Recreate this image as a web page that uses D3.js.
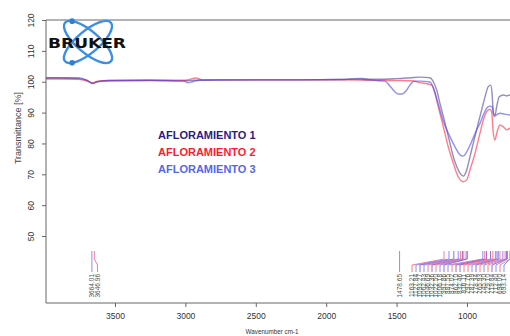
<!DOCTYPE html>
<html>
<head>
<meta charset="utf-8">
<script src="https://cdn.jsdelivr.net/npm/d3@7/dist/d3.min.js"></script>
<style>
  body { margin: 0; background: #fff; }
  svg { display: block; font-family: 'Liberation Sans', Arial, sans-serif; }
</style>
</head>
<body>
<div id="chart"></div>
<script>
// --- data: [wavenumber cm-1, transmittance %]
const seriesNames = ['AFLORAMIENTO 1', 'AFLORAMIENTO 2', 'AFLORAMIENTO 3'];

const afloramiento1 = [
  [3990,101.2],[3900,101.2],[3760,101.0],[3700,100.4],[3660,99.5],[3620,100.1],[3540,100.4],
  [3250,100.5],[3000,100.3],[2930,100.5],[2800,100.6],[2500,100.6],[2200,100.6],[1900,100.7],
  [1760,101.1],[1700,100.8],[1600,100.8],[1500,101.0],[1400,101.3],[1334,101.5],[1263,101.3],
  [1239,100.0],[1215,97.3],[1192,93.0],[1156,86.6],[1121,80.1],[1097,75.7],[1073,72.5],
  [1050,70.4],[1026,69.4],[1002,71.4],[979,75.7],[955,80.1],[920,86.6],[896,90.8],[872,95.1],
  [849,98.4],[832,98.9],[822,96.3],[813,89.9],[801,89.2],[789,91.9],[771,95.1],[742,95.7],
  [718,95.4],[695,95.7],[660,95.5]
];
const afloramiento2 = [
  [3990,100.9],[3900,100.9],[3760,100.8],[3700,100.3],[3660,99.7],[3620,100.2],[3540,100.4],
  [3250,100.5],[3000,100.5],[2925,101.2],[2880,100.6],[2500,100.6],[2200,100.6],[1900,100.6],
  [1700,100.5],[1500,100.4],[1400,100.3],[1334,99.7],[1251,98.9],[1227,96.2],[1204,91.9],
  [1168,85.4],[1133,78.9],[1097,73.6],[1062,69.2],[1026,67.6],[1002,68.2],[979,71.4],
  [943,76.8],[908,83.3],[884,87.6],[860,90.3],[837,91.1],[825,90.3],[813,83.3],[801,81.1],
  [789,83.3],[766,86.0],[742,85.4],[718,84.4],[695,84.9],[660,84.6]
];
const afloramiento3 = [
  [3990,101.3],[3760,101.3],[3700,100.5],[3660,99.4],[3620,100.0],[3540,100.3],[3250,100.4],
  [3010,100.2],[2982,99.7],[2950,100.0],[2900,100.5],[2500,100.6],[2200,100.6],[1900,100.7],
  [1760,100.8],[1620,100.3],[1582,100.2],[1547,98.6],[1511,96.7],[1490,96.0],[1462,96.0],
  [1433,97.0],[1405,98.9],[1376,100.2],[1334,100.2],[1263,99.9],[1242,98.4],[1206,93.1],
  [1171,87.6],[1121,82.2],[1073,77.9],[1050,76.3],[1026,75.9],[1002,77.3],[967,80.6],
  [931,84.4],[908,86.5],[884,89.2],[860,91.4],[837,92.1],[818,91.7],[808,88.7],[794,89.2],
  [766,89.8],[731,89.5],[695,89.2],[660,89.0]
];

// peak picks: wavenumber and series index (0,1,2)
const peakWavenumbers = [3664.01, 3646.96, 1478.65,
  1163.21, 1127.84, 1093.27, 1062.43, 1046.69, 1032.36, 1022.50, 1006.18, 997.86,
  887.55, 874.02, 862.10, 832.46, 816.11, 797.76, 787.39, 778.34, 765.93, 745.30,
  729.10, 719.84, 712.40, 694.00, 693.14];
const peakSeries = [2, 1, 2,
  1, 2, 0, 2, 1, 0, 1, 2, 0,
  2, 1, 0, 0, 1, 1, 2, 0, 1, 2,
  1, 0, 2, 1, 2];

const xTicks = [3500, 3000, 2500, 2000, 1500, 1000];
const yTicks = [50, 60, 70, 80, 90, 100, 110, 120];

const lineColors = ['rgba(60,45,140,0.55)', 'rgba(255,40,60,0.6)', 'rgba(70,70,240,0.6)'];
const pickColors = ['#9a6ad0', '#ff7c88', '#8c8cff'];
const legendColors = ['#2b1c86', '#ff1b2d', '#5466ee'];

const Width = 510, Height = 336;
const Margin = { t: 20, r: 0, b: 33, l: 46 };

const svg = d3.select('#chart').append('svg')
  .attr('width', Width)
  .attr('height', Height);

const x = d3.scaleLinear().domain([3990, 600]).range([Margin.l, 523.3]);
const y = d3.scaleLinear().domain([28.3, 120]).range([Height - Margin.b, Margin.t]);

svg.append('clipPath').attr('id', 'plotClip')
  .append('rect')
  .attr('x', Margin.l).attr('y', Margin.t)
  .attr('width', Width - Margin.l).attr('height', Height - Margin.b - Margin.t);

// axes
const xAxis = svg.append('g')
  .attr('class', 'xAxis')
  .attr('transform', `translate(0, ${Height - Margin.b})`)
  .call(d3.axisBottom(x).tickValues(xTicks).tickFormat(d3.format('d'))
    .tickSize(4).tickSizeOuter(0).tickPadding(6));
xAxis.select('.domain').attr('stroke', '#666').attr('d', `M${Margin.l},0H${Width}`);
xAxis.selectAll('.tick line').attr('stroke', '#666');
xAxis.selectAll('.tick text').attr('fill', '#333').style('font-size', '8.5px');

const yAxis = svg.append('g')
  .attr('class', 'yAxis')
  .attr('transform', `translate(${Margin.l}, 0)`)
  .call(d3.axisLeft(y).tickValues(yTicks).tickFormat(d3.format('d')).tickSize(4).tickSizeOuter(0));
yAxis.select('.domain').attr('stroke', '#666')
  .attr('d', `M0,${Margin.t}V${Height - Margin.b}`);
yAxis.selectAll('.tick line').attr('stroke', '#666');
yAxis.selectAll('.tick text')
  .attr('fill', '#333')
  .style('font-size', '8.5px')
  .attr('transform', 'rotate(-90)')
  .attr('x', 0)
  .attr('y', -12)
  .attr('dy', 0)
  .style('text-anchor', 'middle');

// top frame line
svg.append('line')
  .attr('x1', Margin.l).attr('x2', Width)
  .attr('y1', y(120)).attr('y2', y(120))
  .attr('stroke', '#666');

svg.append('text')
  .attr('x', 272).attr('y', 334)
  .attr('text-anchor', 'middle')
  .attr('fill', '#333')
  .style('font-size', '6.3px')
  .text('Wavenumber cm-1');

svg.append('text')
  .attr('transform', 'translate(21, 128) rotate(-90)')
  .attr('text-anchor', 'middle')
  .attr('fill', '#444')
  .style('font-size', '9px')
  .text('Transmittance [%]');

// spectra
const line = d3.line().x(d => x(d[0])).y(d => y(d[1])).curve(d3.curveMonotoneX);
const specG = svg.append('g').attr('clip-path', 'url(#plotClip)');
[afloramiento1, afloramiento2, afloramiento3].forEach((s, i) => {
  specG.append('path')
    .datum(s)
    .attr('d', line)
    .attr('fill', 'none')
    .attr('stroke', lineColors[i])
    .attr('stroke-width', 1.4)
    .attr('stroke-linejoin', 'round');
});

// peak picks
const peaks = peakWavenumbers.map((w, i) => ({ w, s: peakSeries[i], px: x(w) }))
  .sort((a, b) => a.px - b.px);
const labelStart = 412, labelGap = 4.0;
let lastX = -Infinity, k = 0;
peaks.forEach(p => {
  if (p.w < 1300) { p.lx = labelStart + k * labelGap; k++; }
  else { p.lx = Math.max(p.px, lastX + 5.6); lastX = p.lx; }
});

const pickG = svg.append('g').attr('clip-path', 'url(#plotClip)');
pickG.selectAll('.pick')
  .data(peaks)
  .enter().append('path')
  .attr('class', 'pick')
  .attr('fill', 'none')
  .attr('stroke', d => pickColors[d.s])
  .attr('stroke-width', 1)
  .attr('d', d => `M${d.px},251V259L${d.lx},265V272`);

svg.selectAll('.pickLabel')
  .data(peaks)
  .enter().append('text')
  .attr('class', 'pickLabel')
  .attr('transform', d => `translate(${d.lx}, 274) rotate(-90)`)
  .attr('dy', '0.35em')
  .attr('text-anchor', 'end')
  .attr('fill', '#555')
  .style('font-size', '6.5px')
  .text(d => d.w.toFixed(2));

// legend
svg.selectAll('.legendText')
  .data(seriesNames)
  .enter().append('text')
  .attr('class', 'legendText')
  .attr('x', 158)
  .attr('y', (d, i) => 139.3 + i * 17)
  .attr('fill', (d, i) => legendColors[i])
  .style('font-size', '11px')
  .style('font-weight', 'bold')
  .text(d => d);

// bruker logo
const logo = svg.append('g').attr('class', 'logo');
const cx = 88, cy = 42, rx = 30, ry = 11;
[40, -40].forEach(a => {
  logo.append('ellipse')
    .attr('cx', cx).attr('cy', cy).attr('rx', rx).attr('ry', ry)
    .attr('transform', `rotate(${a}, ${cx}, ${cy})`)
    .attr('fill', 'none')
    .attr('stroke', '#3a8ee6')
    .attr('stroke-width', 2.4);
});
[[40, Math.PI + 0.55], [-40, Math.PI - 0.55]].forEach(([a, t]) => {
  const r = a * Math.PI / 180;
  const lx = rx * Math.cos(t), ly = ry * Math.sin(t);
  logo.append('circle')
    .attr('cx', cx + lx * Math.cos(r) - ly * Math.sin(r))
    .attr('cy', cy + lx * Math.sin(r) + ly * Math.cos(r))
    .attr('r', 2.8)
    .attr('fill', '#2f7fd8');
});
logo.append('text')
  .attr('x', 48).attr('y', 48)
  .attr('textLength', 78)
  .attr('lengthAdjust', 'spacingAndGlyphs')
  .attr('fill', '#111')
  .style('font-family', "'DejaVu Sans', sans-serif")
  .style('font-size', '14px')
  .style('font-weight', 'bold')
  .text('BRUKER');
</script>
</body>
</html>
